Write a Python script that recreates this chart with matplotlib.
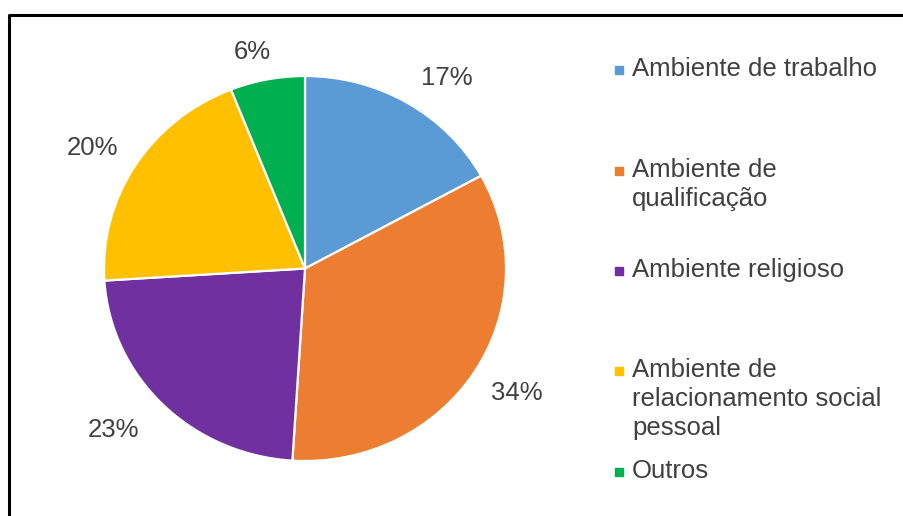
import numpy as np
import matplotlib.pyplot as plt
from matplotlib.lines import Line2D

plt.rcParams['font.family'] = ['Liberation Sans', 'DejaVu Sans']

categorias = ['Ambiente de trabalho', 'Ambiente de\nqualificação', 'Ambiente religioso',
              'Ambiente de\nrelacionamento social\npessoal', 'Outros']
valores = [17, 34, 23, 20, 6]
cores = ['#5B9BD5', '#ED7D31', '#7030A0', '#FFC000', '#00B050']

texto_cor = '#404040'

fig = plt.figure(figsize=(9.04, 5.16), dpi=100)
# a imagem original é levemente esticada na horizontal
ax = fig.add_axes([104 / 904, 55 / 516, 402 / 904, 385 / 516])

wedges, textos, autotextos = ax.pie(valores, colors=cores, startangle=90, counterclock=False,
                                    autopct='%.0f%%', pctdistance=1.23,
                                    wedgeprops=dict(edgecolor='white', linewidth=1.6),
                                    textprops=dict(color=texto_cor, fontsize=18.5))
ax.set_xlim(-1, 1)
ax.set_ylim(-1, 1)
ax.set_aspect('auto')

# posição de cada rótulo (ajuste tipo "melhor ajuste" do Excel)
distancias = [1.216, 1.237, 1.271, 1.231, 1.155]
desvios = [-4.9, 0.9, -3.7, 1.8, 2.4]
for w, t, d, dv in zip(wedges, autotextos, distancias, desvios):
    ang = np.deg2rad((w.theta1 + w.theta2) / 2 + dv)
    t.set_position((d * np.cos(ang), d * np.sin(ang)))

# legenda manual (Excel espaça as entradas de forma irregular)
primeira_linha = [76, 177, 277, 377, 478]
for cat, cor, yb in zip(categorias, cores, primeira_linha):
    n = cat.count('\n')
    fig.text(632 / 904, 1 - (yb + 29 * n) / 516, cat, fontsize=18.5, color=texto_cor,
             va='baseline', ha='left', linespacing=1.27)
    fig.add_artist(Line2D([619 / 904], [1 - (yb - 6) / 516], marker='s', markersize=6,
                          color=cor, linestyle='none', transform=fig.transFigure))

# moldura
fig.add_artist(Line2D([9 / 904, 9 / 904, 1], [0, 1 - 15 / 516, 1 - 15 / 516],
                      color='black', linewidth=2.2, transform=fig.transFigure))

fig.savefig('out.png', dpi=100)
